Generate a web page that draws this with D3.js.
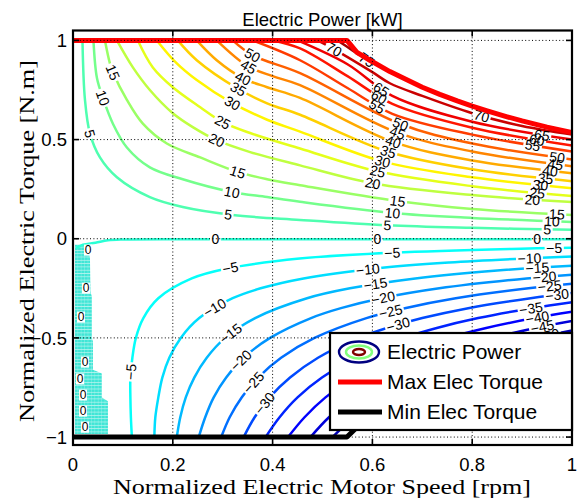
<!DOCTYPE html>
<html>
<head>
<meta charset="utf-8">
<script src="https://cdn.jsdelivr.net/npm/d3@7"></script>
<style>
  body { margin: 0; background: #fff; }
  text { font-family: "Liberation Sans", Arial, Helvetica, sans-serif; }
</style>
</head>
<body>
<div id="chart"></div>
<script>
// ticks
const speedTicks = [0, 0.2, 0.4, 0.6, 0.8, 1];
const torqueTicks = [-1, -0.5, 0, 0.5, 1];

// torque limits, [speed, torque]
const maxElecTorque = [[0, 1], [0.549, 1], [0.569, 0.94], [0.595, 0.9], [0.635, 0.843], [0.67, 0.8], [0.7, 0.764],
  [0.735, 0.728], [0.77, 0.695], [0.8, 0.669], [0.83, 0.645], [0.87, 0.615], [0.9, 0.594], [0.95, 0.563], [1, 0.535]];
const minElecTorque = [[0, -1], [0.549, -1], [0.569, -0.95], [0.595, -0.9], [0.635, -0.845], [0.7, -0.764],
  [0.8, -0.669], [0.9, -0.594], [1, -0.535]];

// power contours [kW], points are [speed, torque]
const motoringContours = [
  [5, [[0.019, 1], [0.024, 0.7], [0.034, 0.53], [0.054, 0.41], [0.088, 0.31], [0.154, 0.21], [0.22, 0.16], [0.32, 0.12], [0.455, 0.095], [0.63, 0.068], [0.8, 0.055], [1, 0.045]]],
  [10, [[0.041, 1], [0.048, 0.81], [0.06, 0.71], [0.08, 0.58], [0.108, 0.46], [0.154, 0.36], [0.22, 0.3], [0.318, 0.236], [0.389, 0.21], [0.455, 0.186], [0.64, 0.13], [0.8, 0.105], [1, 0.085]]],
  [15, [[0.064, 1], [0.074, 0.884], [0.08, 0.84], [0.108, 0.7], [0.14, 0.58], [0.188, 0.48], [0.255, 0.41], [0.33, 0.337], [0.389, 0.3], [0.455, 0.27], [0.65, 0.19], [0.8, 0.15], [1, 0.12]]],
  [20, [[0.088, 1], [0.12, 0.864], [0.154, 0.75], [0.2, 0.633], [0.24, 0.563], [0.288, 0.497], [0.355, 0.437], [0.455, 0.37], [0.6, 0.28], [0.8, 0.22], [1, 0.185]]],
  [25, [[0.13, 1], [0.16, 0.864], [0.2, 0.764], [0.255, 0.663], [0.3, 0.588], [0.355, 0.533], [0.455, 0.455], [0.61, 0.34], [0.8, 0.265], [1, 0.215]]],
  [30, [[0.168, 1], [0.208, 0.884], [0.248, 0.8], [0.315, 0.69], [0.389, 0.6], [0.455, 0.54], [0.62, 0.39], [0.8, 0.31], [1, 0.255]]],
  [35, [[0.21, 1], [0.248, 0.9], [0.328, 0.76], [0.389, 0.683], [0.455, 0.625], [0.63, 0.44], [0.8, 0.35], [1, 0.29]]],
  [40, [[0.248, 1], [0.288, 0.9], [0.34, 0.81], [0.389, 0.764], [0.455, 0.71], [0.64, 0.49], [0.8, 0.395], [1, 0.33]]],
  [45, [[0.288, 1], [0.35, 0.87], [0.4, 0.82], [0.455, 0.775], [0.65, 0.535], [0.8, 0.44], [1, 0.365]]],
  [50, [[0.32, 1], [0.36, 0.925], [0.455, 0.835], [0.655, 0.58], [0.8, 0.48], [1, 0.4]]],
  [55, [[0.36, 1], [0.455, 0.9], [0.55, 0.76], [0.64, 0.63], [0.8, 0.525], [1, 0.44]]],
  [60, [[0.4, 1], [0.455, 0.96], [0.55, 0.82], [0.64, 0.68], [0.8, 0.56], [1, 0.47]]],
  [65, [[0.45, 1], [0.55, 0.88], [0.64, 0.72], [0.8, 0.59], [1, 0.5]]],
  [70, [[0.49, 1], [0.52, 0.96], [0.6, 0.84], [0.635, 0.784], [0.7, 0.72], [0.8, 0.633], [0.9, 0.568], [1, 0.525]]],
  [75, [[0.53, 1], [0.56, 0.95], [0.59, 0.9]]]
];
const zeroContour = [[0.008, -0.045], [0.02, -0.03], [0.045, -0.02], [0.07, -0.008], [0.1, -0.004], [0.3, -0.003], [1, -0.003]];
const generatingContours = [
  [-5, [[0.118, -1], [0.116, -0.9], [0.115, -0.8], [0.115, -0.7], [0.119, -0.6], [0.126, -0.5], [0.141, -0.4], [0.171, -0.3], [0.238, -0.2], [0.309, -0.15], [0.454, -0.1], [0.644, -0.07], [0.898, -0.05], [1, -0.045]]],
  [-10, [[0.163, -1], [0.165, -0.9], [0.171, -0.8], [0.179, -0.7], [0.193, -0.6], [0.216, -0.5], [0.253, -0.4], [0.32, -0.3], [0.376, -0.25], [0.462, -0.2], [0.607, -0.15], [0.754, -0.12], [0.902, -0.1], [1, -0.09]]],
  [-15, [[0.208, -1], [0.215, -0.9], [0.226, -0.8], [0.243, -0.7], [0.268, -0.6], [0.305, -0.5], [0.365, -0.4], [0.469, -0.3], [0.555, -0.25], [0.686, -0.2], [0.85, -0.16], [1, -0.136]]],
  [-20, [[0.252, -1], [0.265, -0.9], [0.282, -0.8], [0.307, -0.7], [0.342, -0.6], [0.395, -0.5], [0.477, -0.4], [0.537, -0.35], [0.618, -0.3], [0.734, -0.25], [0.909, -0.2], [1, -0.181]]],
  [-25, [[0.297, -1], [0.314, -0.9], [0.338, -0.8], [0.371, -0.7], [0.417, -0.6], [0.484, -0.5], [0.588, -0.4], [0.665, -0.35], [0.767, -0.3], [0.913, -0.25], [1, -0.227]]],
  [-30, [[0.342, -1], [0.364, -0.9], [0.394, -0.8], [0.435, -0.7], [0.491, -0.6], [0.573, -0.5], [0.629, -0.45], [0.7, -0.4], [0.792, -0.35], [0.917, -0.3], [1, -0.274]]],
  [-35, [[0.386, -1], [0.414, -0.9], [0.45, -0.8], [0.499, -0.7], [0.566, -0.6], [0.663, -0.5], [0.729, -0.45], [0.812, -0.4], [0.92, -0.35], [1, -0.32]]],
  [-40, [[0.431, -1], [0.464, -0.9], [0.506, -0.8], [0.562, -0.7], [0.64, -0.6], [0.752, -0.5], [0.828, -0.45], [0.924, -0.4], [1, -0.368]]],
  [-45, [[0.476, -1], [0.513, -0.9], [0.562, -0.8], [0.626, -0.7], [0.715, -0.6], [0.842, -0.5], [0.927, -0.45], [1, -0.415]]],
  [-50, [[0.52, -1], [0.563, -0.9], [0.618, -0.8], [0.69, -0.7], [0.789, -0.6], [0.931, -0.5], [1, -0.463]]],
  [-55, [[0.6, -0.89], [0.674, -0.8], [0.754, -0.7], [0.864, -0.6], [1, -0.511]]]
];

// noisy zero-power strip near standstill: [torque, speed of right edge]
const zeroStrip = [[-0.03, 0.03], [-0.1, 0.034], [-0.27, 0.035], [-0.29, 0.038], [-0.5, 0.038], [-0.52, 0.04],
  [-0.66, 0.04], [-0.68, 0.058], [-0.8, 0.058], [-0.82, 0.07], [-0.985, 0.07]];
const zeroStripLabels = [[0.03, -0.057], [0.026, -0.249], [0.016, -0.395], [0.024, -0.622], [0.014, -0.707],
  [0.02, -0.788], [0.02, -0.869], [0.024, -0.95]];

// inline labels, [level, speed, torque]
const contourLabels = [
  [5, 0.034, 0.53], [10, 0.06, 0.71], [15, 0.08, 0.84],
  [50, 0.36, 0.925], [45, 0.35, 0.864], [40, 0.34, 0.81], [35, 0.33, 0.75], [30, 0.315, 0.663], [25, 0.3, 0.588],
  [20, 0.288, 0.497], [15, 0.33, 0.337], [10, 0.318, 0.236], [5, 0.31, 0.12],
  [70, 0.52, 0.94], [75, 0.595, 0.89], [65, 0.62, 0.76], [60, 0.615, 0.72], [55, 0.61, 0.67],
  [50, 0.655, 0.573], [45, 0.65, 0.53], [40, 0.64, 0.48], [35, 0.63, 0.43], [30, 0.62, 0.38], [25, 0.61, 0.33],
  [20, 0.6, 0.26], [15, 0.65, 0.186], [10, 0.64, 0.12], [5, 0.63, 0.06],
  [70, 0.82, 0.633], [65, 0.94, 0.52], [60, 0.93, 0.5], [55, 0.92, 0.46], [50, 0.97, 0.4], [45, 0.966, 0.36],
  [40, 0.956, 0.33], [35, 0.946, 0.3], [30, 0.936, 0.255], [25, 0.93, 0.22], [20, 0.92, 0.18], [15, 0.97, 0.12],
  [10, 0.96, 0.085], [5, 0.95, 0.045],
  [0, 0.285, 0], [0, 0.61, 0], [0, 0.93, 0],
  [-5, 0.114, -0.67], [-5, 0.315, -0.146], [-5, 0.64, -0.07], [-5, 0.965, -0.05],
  [-10, 0.28, -0.33], [-10, 0.59, -0.145], [-10, 0.915, -0.095],
  [-15, 0.31, -0.457], [-15, 0.605, -0.216], [-15, 0.93, -0.139],
  [-20, 0.33, -0.6], [-20, 0.62, -0.28], [-20, 0.945, -0.18],
  [-25, 0.35, -0.7], [-25, 0.635, -0.357], [-25, 0.955, -0.22],
  [-30, 0.37, -0.8], [-30, 0.65, -0.417], [-30, 0.97, -0.27],
  [-35, 0.917, -0.33], [-40, 0.93, -0.38], [-45, 0.94, -0.43], [-50, 0.95, -0.47]
];

const width = 579, height = 498;
const x = d3.scaleLinear().domain([0, 1]).range([73, 572]);
const y = d3.scaleLinear().domain([-1.04, 1.05]).range([445, 30.5]);

// matlab jet
function jet(t) {
  const c = v => Math.round(255 * Math.max(0, Math.min(1, v)));
  return `rgb(${c(1.5 - Math.abs(4 * t - 3))},${c(1.5 - Math.abs(4 * t - 2))},${c(1.5 - Math.abs(4 * t - 1))})`;
}
const colour = d3.scaleSequential(jet).domain([-57, 80]);
const fmt = v => v < 0 ? "\u2212" + Math.abs(v) : String(v);

const svg = d3.select("#chart").append("svg")
    .attr("width", width)
    .attr("height", height);

const defs = svg.append("defs");
defs.append("clipPath").attr("id", "clip")
  .append("rect")
    .attr("x", x(0)).attr("y", y(1.05))
    .attr("width", x(1) - x(0)).attr("height", y(-1.04) - y(1.05));

const pattern = defs.append("pattern").attr("id", "strip")
    .attr("patternUnits", "userSpaceOnUse")
    .attr("width", 3.4).attr("height", 3.3);
pattern.append("rect").attr("width", 3.4).attr("height", 3.3).attr("fill", "rgb(190,245,240)");
pattern.append("rect").attr("width", 3.1).attr("height", 2.6).attr("fill", "rgb(64,230,214)");

const contours = [...motoringContours, [0, zeroContour], ...generatingContours];
const line = d3.line()
    .x(d => x(d[0]))
    .y(d => y(d[1]))
    .curve(d3.curveCatmullRom.alpha(0.5));

const plot = svg.append("g").attr("clip-path", "url(#clip)");

// zero strip
const stripOutline = zeroStrip.map(d => [d[1], d[0]])
  .concat(zeroStrip.slice().reverse().map(d => [0.004, d[0]]));
plot.append("path")
    .attr("d", d3.line().x(d => x(d[0])).y(d => y(d[1]))(stripOutline) + "Z")
    .attr("fill", "url(#strip)");

const paths = plot.append("g")
    .attr("fill", "none")
    .attr("stroke-width", 2.5)
    .attr("stroke-linejoin", "round")
    .attr("stroke-linecap", "round")
  .selectAll("path")
  .data(contours)
  .join("path")
    .attr("d", d => line(d[1]))
    .attr("stroke", d => colour(d[0]))
    .attr("mask", (d, i) => `url(#gap${i})`);

// label placement along each contour
const pathByLevel = new Map();
paths.each(function(d, i) { pathByLevel.set(d[0], {node: this, i}); });

function snap(node, tx, ty) {
  const len = node.getTotalLength();
  let best = 0, bestD = Infinity;
  for (let s = 0; s <= len; s += 0.75) {
    const p = node.getPointAtLength(s);
    const dd = (p.x - tx) ** 2 + (p.y - ty) ** 2;
    if (dd < bestD) { bestD = dd; best = s; }
  }
  const p = node.getPointAtLength(best);
  const a0 = node.getPointAtLength(Math.max(0, best - 5));
  const a1 = node.getPointAtLength(Math.min(len, best + 5));
  let a = Math.atan2(a1.y - a0.y, a1.x - a0.x) * 180 / Math.PI;
  if (a > 90) a -= 180;
  if (a < -90) a += 180;
  return {x: p.x, y: p.y, a};
}

const labelG = svg.append("g")
    .attr("font-size", 14)
    .attr("text-anchor", "middle");
const gaps = contours.map(() => []);
contourLabels.forEach(([lev, w, t]) => {
  const {node, i} = pathByLevel.get(lev);
  const s = snap(node, x(w), y(t));
  const txt = labelG.append("text")
      .attr("transform", `translate(${s.x},${s.y}) rotate(${s.a})`)
      .attr("dy", "0.36em")
      .text(fmt(lev));
  const bw = txt.node().getBBox().width;
  gaps[i].push({...s, bw});
});

contours.forEach((c, i) => {
  const m = defs.append("mask").attr("id", `gap${i}`)
      .attr("maskUnits", "userSpaceOnUse")
      .attr("x", 0).attr("y", 0).attr("width", width).attr("height", height);
  m.append("rect").attr("width", width).attr("height", height).attr("fill", "#fff");
  gaps[i].forEach(g => {
    m.append("rect")
        .attr("x", -g.bw / 2 - 1.5).attr("y", -6)
        .attr("width", g.bw + 3).attr("height", 12)
        .attr("transform", `translate(${g.x},${g.y}) rotate(${g.a})`)
        .attr("fill", "#000");
  });
});

// zero strip labels
const stripLab = svg.append("g").attr("font-size", 12).attr("text-anchor", "middle");
zeroStripLabels.forEach(([w, t]) => {
  stripLab.append("rect")
      .attr("x", x(w) - 4).attr("y", y(t) - 5.5)
      .attr("width", 8).attr("height", 11)
      .attr("fill", "#fff");
  stripLab.append("text")
      .attr("x", x(w)).attr("y", y(t))
      .attr("dy", "0.36em")
      .text("0");
});

// torque limits
const limits = svg.append("g").attr("clip-path", "url(#clip)").attr("fill", "none")
    .attr("stroke-width", 5).attr("stroke-linejoin", "round");
const limitLine = d3.line().x(d => x(d[0])).y(d => y(d[1]));
limits.append("path").attr("d", limitLine(minElecTorque)).attr("stroke", "#000");
limits.append("path").attr("d", limitLine(maxElecTorque)).attr("stroke", "#f00");

// grid
const grid = svg.append("g")
    .attr("stroke", "#000")
    .attr("stroke-width", 1)
    .attr("stroke-dasharray", "1 2.4");
grid.selectAll(".gx").data(speedTicks.slice(1, -1)).join("line")
    .attr("x1", d => x(d)).attr("x2", d => x(d))
    .attr("y1", y(1.05)).attr("y2", y(-1.04));
grid.selectAll(".gy").data(torqueTicks).join("line")
    .attr("y1", d => y(d)).attr("y2", d => y(d))
    .attr("x1", x(0)).attr("x2", x(1));

// ticks, inward on all sides
const ticks = svg.append("g").attr("stroke", "#000").attr("stroke-width", 1.6);
speedTicks.forEach(d => {
  ticks.append("line").attr("x1", x(d)).attr("x2", x(d)).attr("y1", y(-1.04)).attr("y2", y(-1.04) - 6);
  ticks.append("line").attr("x1", x(d)).attr("x2", x(d)).attr("y1", y(1.05)).attr("y2", y(1.05) + 6);
});
torqueTicks.forEach(d => {
  ticks.append("line").attr("y1", y(d)).attr("y2", y(d)).attr("x1", x(0)).attr("x2", x(0) + 6);
  ticks.append("line").attr("y1", y(d)).attr("y2", y(d)).attr("x1", x(1)).attr("x2", x(1) - 6);
});

svg.append("rect")
    .attr("x", x(0)).attr("y", y(1.05))
    .attr("width", x(1) - x(0)).attr("height", y(-1.04) - y(1.05))
    .attr("fill", "none").attr("stroke", "#000").attr("stroke-width", 2.2);

// tick labels
svg.append("g").attr("font-size", 18.5).attr("text-anchor", "middle")
  .selectAll("text").data(speedTicks).join("text")
    .attr("x", d => x(d)).attr("y", 471)
    .text(d => fmt(d));
svg.append("g").attr("font-size", 18.5).attr("text-anchor", "end")
  .selectAll("text").data(torqueTicks).join("text")
    .attr("x", x(0) - 6).attr("y", d => y(d)).attr("dy", "0.36em")
    .text(d => fmt(d));

// titles
svg.append("text")
    .attr("x", (x(0) + x(1)) / 2).attr("y", 26)
    .attr("text-anchor", "middle").attr("font-size", 18.5)
    .text("Electric Power [kW]");
svg.append("text")
    .attr("x", 322).attr("y", 494)
    .attr("text-anchor", "middle")
    .style("font-family", "'Liberation Serif', 'Times New Roman', serif")
    .attr("font-size", 21)
    .attr("textLength", 418).attr("lengthAdjust", "spacingAndGlyphs")
    .text("Normalized Electric Motor Speed [rpm]");
svg.append("text")
    .attr("transform", "translate(34,241) rotate(-90)")
    .attr("text-anchor", "middle")
    .style("font-family", "'Liberation Serif', 'Times New Roman', serif")
    .attr("font-size", 21)
    .attr("textLength", 362).attr("lengthAdjust", "spacingAndGlyphs")
    .text("Normalized Electric Torque [N.m]");

// legend
const legend = svg.append("g");
legend.append("rect")
    .attr("x", 330).attr("y", 333).attr("width", 242).attr("height", 97)
    .attr("fill", "#fff").attr("stroke", "#000").attr("stroke-width", 2.2);
const icon = legend.append("g").attr("fill", "none").attr("stroke-width", 2.4);
icon.append("ellipse").attr("cx", 359).attr("cy", 352).attr("rx", 20).attr("ry", 10.5).attr("stroke", colour(-57));
icon.append("ellipse").attr("cx", 359).attr("cy", 352).attr("rx", 13).attr("ry", 6.5).attr("stroke", colour(12));
icon.append("ellipse").attr("cx", 359).attr("cy", 352).attr("rx", 6).attr("ry", 3).attr("stroke", colour(80));
legend.append("line").attr("x1", 338).attr("x2", 382).attr("y1", 382).attr("y2", 382)
    .attr("stroke", "#f00").attr("stroke-width", 5);
legend.append("line").attr("x1", 338).attr("x2", 382).attr("y1", 412).attr("y2", 412)
    .attr("stroke", "#000").attr("stroke-width", 5);
legend.append("g").attr("font-size", 21)
  .selectAll("text").data(["Electric Power", "Max Elec Torque", "Min Elec Torque"]).join("text")
    .attr("x", 387).attr("y", (d, i) => 359 + i * 30)
    .text(d => d);
</script>
</body>
</html>
